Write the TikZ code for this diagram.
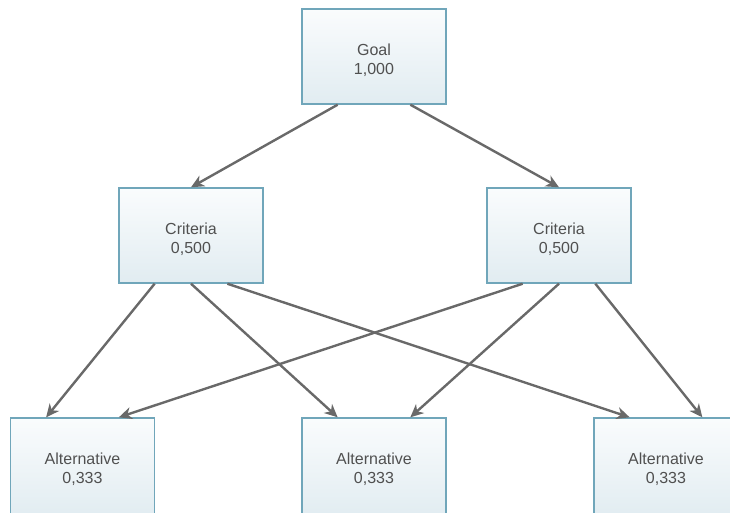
\documentclass[tikz,border=0pt]{standalone}
\usepackage{fontspec}
\setmainfont{Liberation Sans}
\usetikzlibrary{arrows.meta,calc}
\definecolor{boxedge}{RGB}{112,166,186}
\definecolor{boxtop}{RGB}{250,252,253}
\definecolor{boxbottom}{RGB}{225,236,241}
\definecolor{linkgray}{RGB}{105,105,105}
\definecolor{textgray}{RGB}{80,80,80}
\begin{document}
\begin{tikzpicture}[x=1pt,y=-1pt,
  box/.style={draw=boxedge, line width=1.4pt, top color=boxtop, bottom color=boxbottom,
    minimum width=144pt, minimum height=95pt, inner sep=0pt},
  tallbox/.style={box, minimum height=100pt},
  boxtext/.style={align=center, text=textgray, yshift=-4pt,
    font=\fontsize{16}{19}\selectfont, inner sep=0pt},
  lowtext/.style={boxtext, yshift=3pt},
  link/.style={draw=linkgray, line width=2.4pt,
    -{Stealth[length=13pt,width=12pt,inset=4pt]}}]
  \useasboundingbox (0,0) rectangle (730,513);
  \clip (0,0) rectangle (730,513);

  % hierarchy levels
  \node[box, label={[boxtext]center:{Goal\\1,000}}] (g) at (374,56.5) {};
  \node[box, label={[boxtext]center:{Criteria\\0,500}}] (c1) at (191,235.5) {};
  \node[box, label={[boxtext]center:{Criteria\\0,500}}] (c2) at (559,235.5) {};
  \node[tallbox, label={[lowtext]center:{Alternative\\0,333}}] (a1) at (82.5,468) {};
  \node[tallbox, label={[lowtext]center:{Alternative\\0,333}}] (a2) at (374,468) {};
  \node[tallbox, label={[lowtext]center:{Alternative\\0,333}}] (a3) at (666,468) {};

  % goal to criteria
  \draw[link] ($(g.south west)!.25!(g.south east)$) -- (c1.north);
  \draw[link] ($(g.south west)!.75!(g.south east)$) -- (c2.north);

  % criteria to alternatives
  \draw[link] ($(c1.south west)!.25!(c1.south east)$) -- ($(a1.north west)!.25!(a1.north east)$);
  \draw[link] (c1.south) -- ($(a2.north west)!.25!(a2.north east)$);
  \draw[link] ($(c1.south west)!.75!(c1.south east)$) -- ($(a3.north west)!.25!(a3.north east)$);
  \draw[link] ($(c2.south west)!.25!(c2.south east)$) -- ($(a1.north west)!.75!(a1.north east)$);
  \draw[link] (c2.south) -- ($(a2.north west)!.75!(a2.north east)$);
  \draw[link] ($(c2.south west)!.75!(c2.south east)$) -- ($(a3.north west)!.75!(a3.north east)$);
\end{tikzpicture}
\end{document}
